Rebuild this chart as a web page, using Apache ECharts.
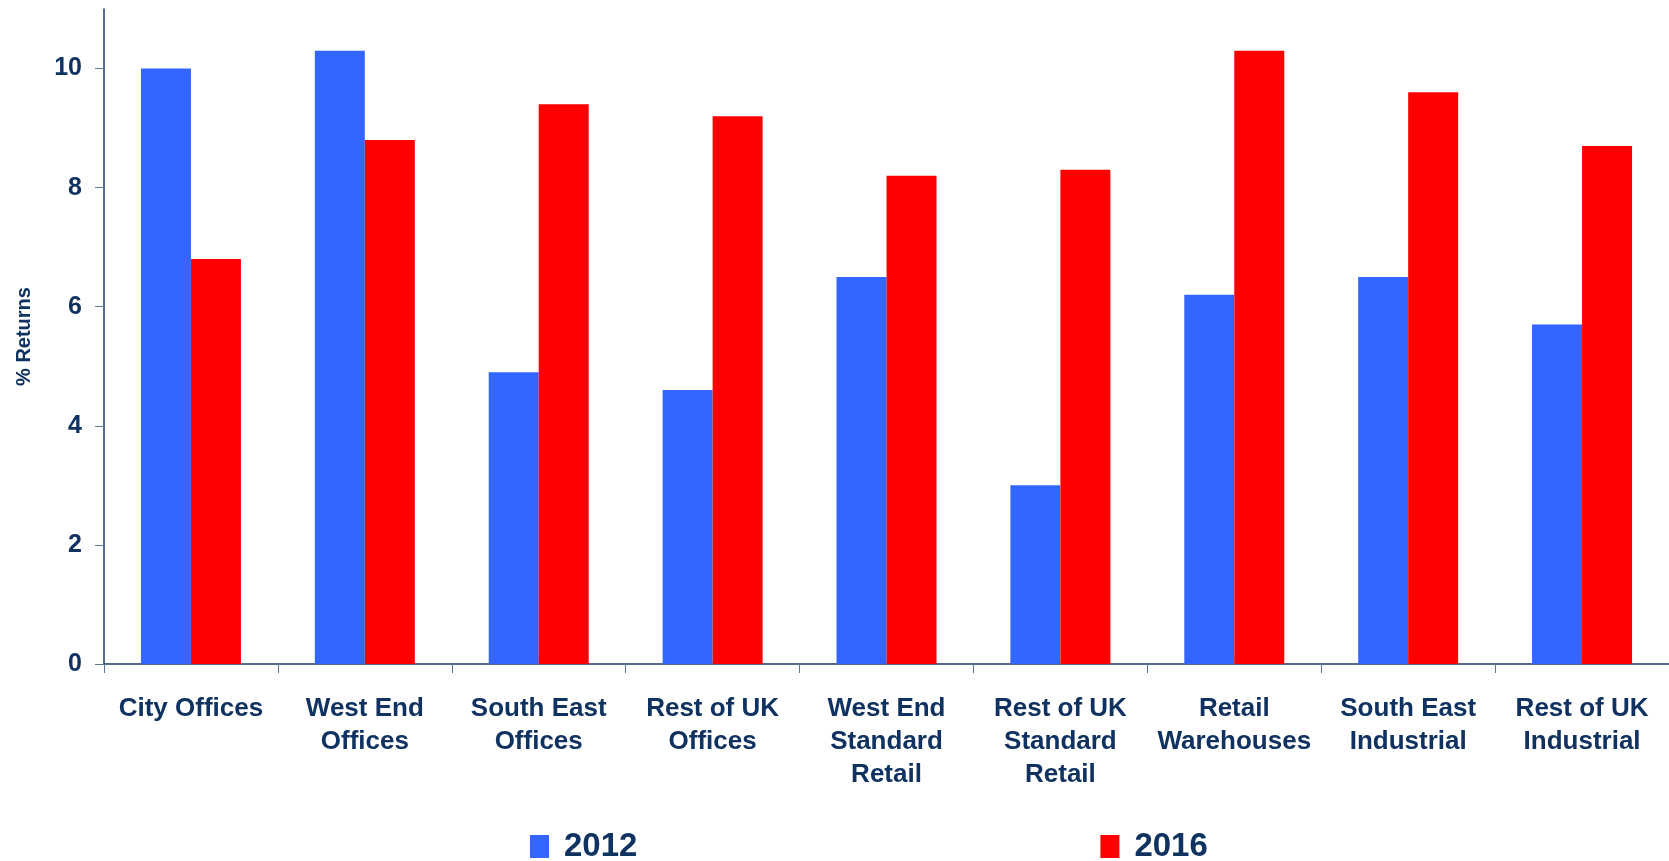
<!DOCTYPE html>
<html>
<head>
<meta charset="utf-8">
<title>% Returns by sector, 2012 vs 2016</title>
<script src="https://cdn.jsdelivr.net/npm/echarts@6/dist/echarts.min.js"></script>
<style>
  html, body { margin: 0; padding: 0; background: #ffffff; }
  #chart { width: 1669px; height: 861px; }
</style>
</head>
<body>
<div id="chart"></div>
<script>
// Property sectors on the category axis
const categories = [
  'City Offices',
  'West End\nOffices',
  'South East\nOffices',
  'Rest of UK\nOffices',
  'West End\nStandard\nRetail',
  'Rest of UK\nStandard\nRetail',
  'Retail\nWarehouses',
  'South East\nIndustrial',
  'Rest of UK\nIndustrial'
];

// Annual returns (%) per sector
const returns2012 = [10.0, 10.3, 4.9, 4.6, 6.5, 3.0, 6.2, 6.5, 5.7];
const returns2016 = [6.8, 8.8, 9.4, 9.2, 8.2, 8.3, 10.3, 9.6, 8.7];

const seriesNames = ['2012', '2016'];
const yTickValues = [0, 2, 4, 6, 8, 10];
const yRange = { min: 0, max: 11, interval: 2 };

const navy = '#0f3261';
const fontFamily = '"Liberation Sans", Arial, sans-serif';

const chart = echarts.init(document.getElementById('chart'), null, { renderer: 'canvas' });

chart.setOption({
  backgroundColor: '#ffffff',
  animation: false,
  grid: { left: 104, right: 0, top: 9, bottom: 197, containLabel: false },
  legend: {
    data: seriesNames,
    left: 525,
    top: 825,
    itemWidth: 19,
    itemHeight: 23,
    itemGap: 463,
    icon: 'rect',
    textStyle: {
      color: navy,
      fontFamily: fontFamily,
      fontWeight: 'bold',
      fontSize: 33,
      padding: [0, 0, 0, 10]
    }
  },
  xAxis: {
    type: 'category',
    data: categories,
    axisLine: { show: true, lineStyle: { color: '#1d3b68', width: 1.5 } },
    axisTick: { show: true, length: 9, lineStyle: { color: '#5f7694', width: 1 } },
    axisLabel: {
      color: navy,
      fontFamily: fontFamily,
      fontWeight: 'bold',
      fontSize: 26,
      lineHeight: 33,
      margin: 28,
      interval: 0
    },
    splitLine: { show: false }
  },
  yAxis: {
    type: 'value',
    min: yRange.min,
    max: yRange.max,
    interval: yRange.interval,
    name: '% Returns',
    nameLocation: 'middle',
    nameGap: 70,
    nameTextStyle: {
      color: navy,
      fontFamily: fontFamily,
      fontWeight: 'bold',
      fontSize: 20
    },
    axisLine: { show: true, lineStyle: { color: '#1d3b68', width: 1.5 } },
    axisTick: {
      show: true,
      length: 9,
      customValues: yTickValues,
      lineStyle: { color: '#5f7694', width: 1 }
    },
    axisLabel: {
      color: navy,
      fontFamily: fontFamily,
      fontWeight: 'bold',
      fontSize: 25,
      margin: 22,
      customValues: yTickValues
    },
    splitLine: { show: false }
  },
  series: [
    {
      name: seriesNames[0],
      type: 'bar',
      data: returns2012,
      barWidth: 50,
      barGap: '0%',
      itemStyle: { color: '#3366ff' }
    },
    {
      name: seriesNames[1],
      type: 'bar',
      data: returns2016,
      barWidth: 50,
      barGap: '0%',
      itemStyle: { color: '#ff0000' }
    }
  ]
});
</script>
</body>
</html>
